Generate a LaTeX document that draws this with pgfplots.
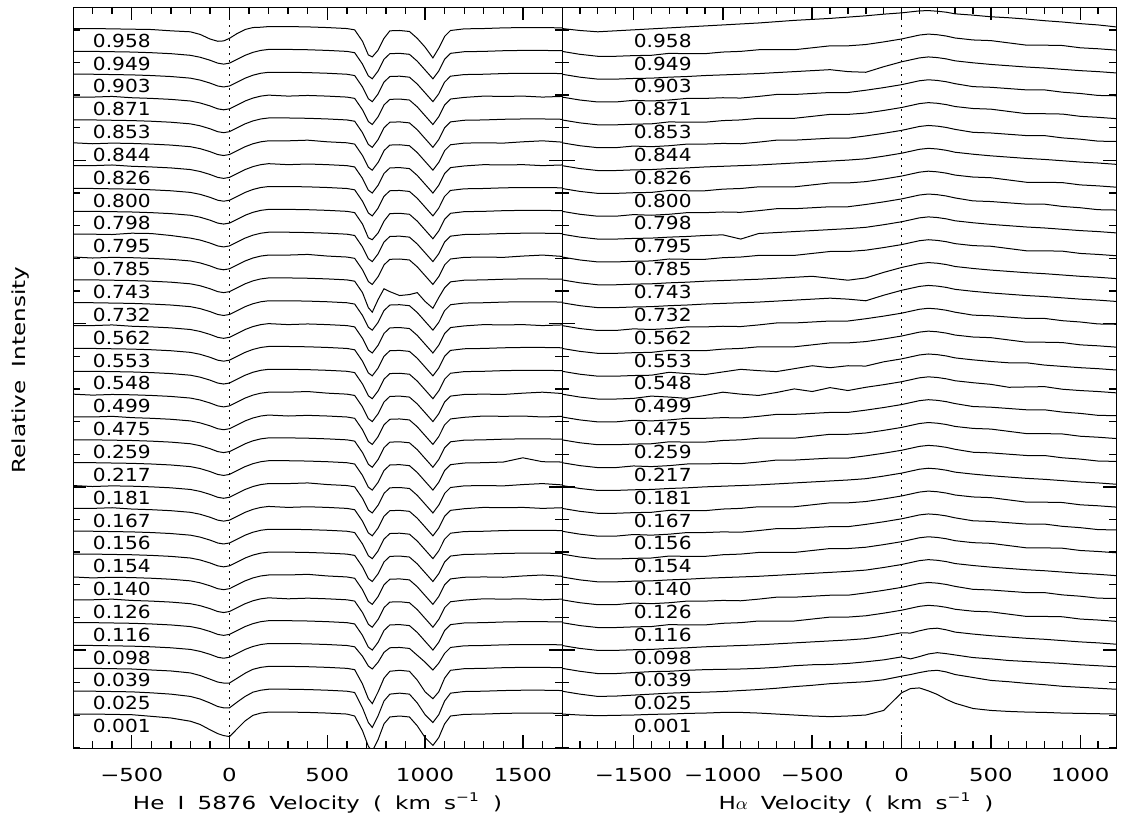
\documentclass[border=0pt]{standalone}
\usepackage{fontspec}
\setmainfont{DejaVu Sans}
\newfontfamily\ticklab{DejaVu Sans}[FakeStretch=1.27]
\newfontfamily\phaselab{DejaVu Sans}[FakeStretch=1.12]
\newfontfamily\axlab{DejaVu Sans}[FakeStretch=1.28, WordSpace=1.8]
\usepackage{pgfplots}
\usepackage{pgfplotstable}
\pgfplotsset{compat=1.18}

% He I 5876 panel: normalized flux, columns c0 (phase 0.001) ... c30 (phase 0.958)
\pgfplotstableread{
v c0 c1 c2 c3 c4 c5 c6 c7 c8 c9 c10 c11 c12 c13 c14 c15 c16 c17 c18 c19 c20 c21 c22 c23 c24 c25 c26 c27 c28 c29 c30
-800 1.000 1.000 1.000 1.000 1.000 1.000 1.000 1.000 1.000 1.000 1.000 1.000 1.000 1.000 1.000 1.000 1.000 1.000 1.000 1.000 1.000 1.000 1.000 1.000 1.000 1.000 1.000 1.000 1.000 1.000 1.000
-700 1.000 1.000 1.000 1.000 1.000 1.000 0.997 1.000 1.000 1.000 0.997 1.000 1.000 1.000 0.997 1.000 1.000 1.000 1.000 1.000 0.997 1.000 1.000 1.000 1.000 0.997 1.000 1.000 1.000 1.000 1.000
-600 0.999 0.999 0.999 0.999 0.999 1.002 0.999 0.999 0.999 1.002 0.999 0.999 0.999 1.002 0.999 0.999 0.999 1.002 0.999 0.999 0.999 0.999 0.999 0.999 1.002 0.999 0.999 1.002 0.999 0.999 0.999
-500 0.998 0.998 0.998 0.998 0.998 0.998 0.998 0.998 0.998 0.998 0.998 0.998 0.998 0.998 0.998 0.998 0.998 0.998 0.998 0.998 0.998 1.003 0.998 0.998 0.998 0.998 0.998 0.998 0.998 0.998 0.998
-400 0.993 0.995 0.995 0.996 0.996 0.996 0.996 0.996 0.996 0.996 0.996 0.996 0.996 0.996 0.996 0.996 0.996 0.996 0.996 0.996 0.996 1.002 0.996 0.996 0.996 0.996 0.996 0.996 0.996 0.996 0.997
-300 0.988 0.991 0.992 0.993 0.993 0.993 0.993 0.993 0.993 0.993 0.993 0.993 0.993 0.993 0.993 0.993 0.993 0.993 0.993 0.993 0.993 0.996 0.993 0.993 0.993 0.993 0.993 0.993 0.993 0.993 0.993
-200 0.978 0.984 0.986 0.988 0.988 0.988 0.988 0.988 0.988 0.988 0.988 0.988 0.988 0.988 0.988 0.988 0.988 0.988 0.988 0.988 0.988 0.988 0.988 0.988 0.988 0.988 0.988 0.988 0.988 0.988 0.990
-150 0.968 0.976 0.978 0.982 0.982 0.982 0.982 0.982 0.982 0.982 0.982 0.982 0.982 0.982 0.982 0.982 0.982 0.982 0.982 0.982 0.982 0.982 0.982 0.982 0.982 0.982 0.982 0.982 0.982 0.982 0.982
-100 0.952 0.964 0.967 0.973 0.973 0.973 0.973 0.973 0.973 0.973 0.973 0.973 0.973 0.973 0.973 0.973 0.973 0.973 0.973 0.973 0.973 0.973 0.973 0.973 0.973 0.973 0.973 0.973 0.973 0.973 0.968
-60 0.940 0.953 0.958 0.964 0.964 0.964 0.964 0.964 0.964 0.964 0.964 0.964 0.964 0.964 0.964 0.964 0.964 0.964 0.964 0.964 0.964 0.964 0.964 0.964 0.964 0.964 0.964 0.964 0.964 0.964 0.961
-30 0.934 0.949 0.955 0.961 0.961 0.961 0.961 0.961 0.961 0.961 0.961 0.961 0.961 0.961 0.961 0.961 0.961 0.961 0.961 0.961 0.961 0.961 0.961 0.961 0.961 0.961 0.961 0.961 0.961 0.961 0.962
0 0.931 0.949 0.955 0.964 0.964 0.964 0.964 0.964 0.964 0.964 0.964 0.964 0.964 0.964 0.964 0.964 0.964 0.964 0.964 0.964 0.964 0.964 0.964 0.964 0.964 0.964 0.964 0.964 0.964 0.964 0.970
40 0.955 0.967 0.970 0.976 0.976 0.976 0.976 0.976 0.976 0.976 0.976 0.976 0.976 0.976 0.976 0.976 0.976 0.976 0.976 0.976 0.976 0.976 0.976 0.976 0.976 0.976 0.976 0.976 0.976 0.976 0.985
80 0.979 0.984 0.985 0.988 0.988 0.988 0.988 0.988 0.988 0.988 0.988 0.988 0.988 0.988 0.988 0.988 0.988 0.988 0.988 0.988 0.988 0.988 0.988 0.988 0.988 0.988 0.988 0.988 0.988 0.988 0.997
120 0.996 0.997 0.997 0.997 0.997 0.997 0.997 0.997 0.997 0.997 0.997 0.997 0.997 0.997 0.997 0.997 0.997 0.997 0.997 0.997 0.997 0.997 0.997 0.997 0.997 0.997 0.997 0.997 0.997 0.997 1.003
160 1.003 1.003 1.003 1.003 1.003 1.003 1.003 1.003 1.003 1.003 1.003 1.003 1.003 1.003 1.003 1.003 1.003 1.003 1.003 1.003 1.003 1.003 1.003 1.003 1.003 1.003 1.003 1.003 1.003 1.003 1.004
200 1.006 1.006 1.006 1.006 1.006 1.006 1.006 1.006 1.006 1.006 1.006 1.006 1.006 1.006 1.006 1.006 1.006 1.006 1.006 1.006 1.006 1.006 1.006 1.006 1.006 1.006 1.006 1.006 1.006 1.006 1.006
300 1.006 1.006 1.006 1.006 1.006 1.003 1.006 1.006 1.006 1.003 1.006 1.006 1.006 1.003 1.006 1.006 1.006 1.003 1.006 1.006 1.006 1.006 1.006 1.006 1.003 1.006 1.006 1.003 1.006 1.006 1.006
400 1.005 1.005 1.005 1.005 1.005 1.005 1.008 1.005 1.005 1.005 1.008 1.005 1.005 1.005 1.008 1.005 1.005 1.005 1.005 1.005 1.008 1.005 1.005 1.005 1.005 1.008 1.005 1.005 1.005 1.005 1.005
500 1.003 1.003 1.003 1.003 1.003 1.003 1.003 1.003 1.003 1.003 1.003 1.003 1.003 1.003 1.003 1.003 1.003 1.003 1.003 1.003 1.003 1.003 1.003 1.003 1.003 1.003 1.003 1.003 1.003 1.003 1.003
600 1.000 1.000 1.000 1.000 1.000 1.000 1.000 1.000 1.000 1.000 1.000 1.000 1.000 1.000 1.000 1.000 1.000 1.000 1.000 1.000 1.000 1.000 1.000 1.000 1.000 1.000 1.000 1.000 1.000 1.000 1.000
640 0.994 0.996 0.996 0.996 0.996 0.996 0.996 0.996 0.996 0.996 0.996 0.996 0.996 0.996 0.996 0.996 0.996 0.996 0.996 0.996 0.996 0.996 0.996 0.996 0.996 0.996 0.996 0.996 0.996 0.996 0.996
680 0.949 0.949 0.952 0.967 0.961 0.961 0.961 0.961 0.961 0.961 0.961 0.961 0.961 0.961 0.961 0.961 0.961 0.961 0.961 0.961 0.961 0.961 0.961 0.961 0.961 0.961 0.961 0.961 0.961 0.961 0.961
710 0.901 0.904 0.907 0.937 0.925 0.925 0.925 0.925 0.925 0.925 0.925 0.925 0.925 0.925 0.925 0.925 0.925 0.925 0.925 0.915 0.925 0.925 0.919 0.925 0.925 0.925 0.925 0.925 0.925 0.925 0.919
730 0.886 0.889 0.892 0.928 0.916 0.916 0.916 0.916 0.916 0.916 0.916 0.916 0.916 0.916 0.916 0.916 0.916 0.916 0.916 0.901 0.916 0.916 0.913 0.916 0.916 0.916 0.916 0.916 0.916 0.916 0.913
760 0.922 0.925 0.928 0.949 0.940 0.940 0.940 0.940 0.940 0.940 0.940 0.940 0.940 0.940 0.940 0.940 0.940 0.940 0.940 0.940 0.940 0.940 0.934 0.940 0.940 0.940 0.940 0.940 0.940 0.940 0.934
790 0.970 0.970 0.970 0.979 0.976 0.976 0.976 0.976 0.976 0.976 0.976 0.976 0.976 0.976 0.976 0.976 0.976 0.976 0.976 0.973 0.976 0.976 0.970 0.976 0.976 0.976 0.976 0.976 0.976 0.976 0.970
820 0.991 0.991 0.991 0.993 0.993 0.993 0.993 0.993 0.993 0.993 0.993 0.993 0.993 0.993 0.993 0.993 0.993 0.993 0.993 0.964 0.993 0.993 0.993 0.993 0.993 0.993 0.993 0.993 0.993 0.993 0.993
870 0.994 0.994 0.994 0.994 0.994 0.994 0.994 0.994 0.994 0.994 0.994 0.994 0.994 0.994 0.994 0.994 0.994 0.994 0.994 0.952 0.994 0.994 0.994 0.994 0.994 0.994 0.994 0.994 0.994 0.994 0.994
920 0.991 0.991 0.991 0.991 0.991 0.991 0.991 0.991 0.991 0.991 0.991 0.991 0.991 0.991 0.991 0.991 0.991 0.991 0.991 0.955 0.991 0.991 0.991 0.991 0.991 0.991 0.991 0.991 0.991 0.991 0.991
960 0.964 0.964 0.964 0.970 0.970 0.970 0.970 0.970 0.970 0.970 0.970 0.970 0.970 0.970 0.970 0.970 0.970 0.970 0.970 0.961 0.970 0.970 0.970 0.970 0.970 0.970 0.970 0.970 0.970 0.970 0.970
1000 0.928 0.928 0.928 0.949 0.943 0.943 0.943 0.943 0.943 0.943 0.943 0.943 0.943 0.943 0.943 0.943 0.943 0.943 0.943 0.934 0.943 0.943 0.943 0.943 0.943 0.943 0.943 0.943 0.943 0.943 0.943
1040 0.904 0.904 0.907 0.925 0.916 0.916 0.916 0.916 0.916 0.916 0.916 0.916 0.916 0.916 0.916 0.916 0.916 0.916 0.916 0.913 0.916 0.916 0.916 0.916 0.916 0.916 0.916 0.916 0.916 0.916 0.910
1070 0.928 0.928 0.928 0.946 0.940 0.940 0.940 0.940 0.940 0.940 0.940 0.940 0.940 0.940 0.940 0.940 0.940 0.940 0.940 0.946 0.940 0.940 0.940 0.940 0.940 0.940 0.940 0.940 0.940 0.940 0.940
1100 0.970 0.970 0.970 0.976 0.976 0.976 0.976 0.976 0.976 0.976 0.976 0.976 0.976 0.976 0.976 0.976 0.976 0.976 0.976 0.976 0.976 0.976 0.976 0.976 0.976 0.976 0.976 0.976 0.976 0.976 0.976
1130 0.994 0.994 0.994 0.994 0.994 0.994 0.994 0.994 0.994 0.994 0.994 0.994 0.994 0.994 0.994 0.994 0.994 0.994 0.994 0.994 0.994 0.994 0.994 0.994 0.994 0.994 0.994 0.994 0.994 0.994 0.994
1200 0.999 0.999 0.999 0.999 0.999 0.999 0.999 0.999 0.999 0.999 0.999 0.999 0.999 0.999 0.999 0.999 0.999 0.999 0.999 0.999 0.999 0.999 0.999 0.999 0.999 0.999 0.999 0.999 0.999 0.999 0.999
1300 1.000 1.000 1.000 1.000 1.000 1.003 1.000 1.000 1.000 1.003 1.000 1.000 1.000 1.003 1.000 1.000 1.000 1.003 1.000 1.000 1.000 1.000 1.000 1.000 1.003 1.000 1.000 1.003 1.000 1.000 1.000
1400 1.002 1.002 1.002 1.002 1.002 1.002 0.999 1.002 1.002 1.002 0.999 1.002 1.002 1.002 0.999 1.002 1.002 1.002 1.002 1.002 0.999 1.002 1.002 1.002 1.002 0.999 1.002 1.002 1.002 1.002 1.002
1500 1.003 1.003 1.003 1.003 1.003 1.003 1.003 1.003 1.003 1.003 1.003 1.015 1.003 1.003 1.003 1.003 1.003 1.003 1.003 1.003 1.003 1.003 1.003 1.003 1.003 1.003 1.003 1.003 1.003 1.003 1.003
1600 1.003 1.003 1.003 1.003 1.003 1.000 1.006 1.003 1.003 1.000 1.006 1.003 1.003 1.000 1.006 1.003 1.003 1.000 1.003 1.003 1.006 1.003 1.003 1.003 1.000 1.006 1.003 1.000 1.003 1.003 1.003
1700 1.002 1.002 1.002 1.002 1.002 1.002 1.002 1.002 1.002 1.002 1.002 1.002 1.002 1.002 1.002 1.002 1.002 1.002 1.002 1.002 1.002 1.002 1.002 1.002 1.002 1.002 1.002 1.002 1.002 1.002 1.002
}\heI

% H alpha panel
\pgfplotstableread{
v c0 c1 c2 c3 c4 c5 c6 c7 c8 c9 c10 c11 c12 c13 c14 c15 c16 c17 c18 c19 c20 c21 c22 c23 c24 c25 c26 c27 c28 c29 c30
-1900 1.000 1.000 1.000 1.000 1.000 1.000 1.000 1.000 1.000 1.000 1.000 1.000 1.000 1.000 1.000 1.000 1.000 1.000 1.000 1.000 1.000 1.000 1.000 1.000 1.000 1.000 1.000 1.000 1.000 1.000 1.000
-1800 0.997 0.991 0.991 0.991 0.991 0.991 0.991 0.991 0.991 0.991 0.991 0.991 0.991 0.991 0.991 0.991 0.991 0.991 0.991 0.991 0.991 0.991 0.991 0.991 0.991 0.991 0.991 0.991 0.991 0.991 0.994
-1700 0.995 0.984 0.984 0.985 0.985 0.985 0.985 0.985 0.985 0.985 0.985 0.985 0.985 0.985 0.985 0.985 0.985 0.985 0.985 0.985 0.985 0.985 0.985 0.985 0.985 0.985 0.985 0.985 0.985 0.985 0.990
-1600 0.996 0.985 0.984 0.985 0.985 0.985 0.985 0.985 0.985 0.985 0.985 0.985 0.985 0.985 0.985 0.985 0.985 0.985 0.985 0.985 0.985 0.985 0.985 0.985 0.985 0.985 0.985 0.985 0.985 0.985 0.993
-1500 0.997 0.988 0.987 0.987 0.987 0.990 0.987 0.987 0.990 0.987 0.987 0.990 0.987 0.990 0.987 0.987 0.987 0.990 0.987 0.987 0.987 0.987 0.990 0.987 0.987 0.990 0.987 0.990 0.987 0.987 0.996
-1400 0.999 0.991 0.990 0.988 0.988 0.988 0.988 0.988 0.988 0.988 0.988 0.988 0.988 0.988 0.994 0.988 0.988 0.988 0.988 0.988 0.988 0.988 0.988 0.988 0.988 0.988 0.988 0.988 0.988 0.988 0.999
-1300 1.000 0.994 0.991 0.991 0.994 0.991 0.991 0.994 0.991 0.994 0.991 0.991 0.994 0.991 0.991 0.997 0.994 0.991 0.991 0.991 0.994 0.991 0.991 0.994 0.991 0.991 0.994 0.991 0.991 0.994 1.002
-1200 1.002 0.996 0.994 0.993 0.993 0.996 0.993 0.993 0.996 0.993 0.993 0.996 0.993 0.996 0.987 0.993 0.993 0.996 0.993 0.993 0.993 0.993 0.996 0.993 0.993 0.996 0.993 0.996 0.993 0.993 1.005
-1100 1.003 0.997 0.996 0.996 0.993 0.996 0.996 0.993 0.996 0.993 0.996 0.996 0.993 0.996 0.996 0.990 0.993 0.996 0.996 0.996 0.993 0.996 0.996 0.993 0.996 0.996 0.993 0.996 0.996 0.993 1.008
-1000 1.005 0.999 0.997 0.998 0.998 0.998 0.998 0.998 0.998 0.998 0.998 0.998 0.998 0.998 1.006 0.998 0.998 0.998 0.998 0.998 0.998 0.998 0.998 0.998 0.998 0.998 0.998 0.998 0.998 0.998 1.011
-900 1.005 1.002 0.998 1.000 1.000 0.997 1.000 1.000 0.997 1.000 1.000 0.997 1.000 0.997 1.000 1.006 1.000 0.997 1.000 1.000 1.000 0.985 0.997 1.000 1.000 0.997 1.000 0.997 1.000 1.000 1.014
-800 1.003 1.005 1.000 1.002 1.005 1.002 1.002 1.005 1.002 1.005 1.002 1.002 1.005 1.002 0.996 1.002 1.005 1.002 1.002 1.002 1.005 1.002 1.002 1.005 1.002 1.002 1.005 1.002 1.002 1.005 1.017
-700 1.000 1.009 1.003 1.005 1.005 1.008 1.005 1.005 1.008 1.005 1.005 1.008 1.005 1.008 1.005 0.999 1.005 1.008 1.005 1.005 1.005 1.005 1.008 1.005 1.005 1.008 1.005 1.008 1.005 1.005 1.021
-600 0.997 1.014 1.008 1.008 1.005 1.008 1.008 1.005 1.008 1.005 1.008 1.008 1.005 1.008 1.016 1.008 1.005 1.008 1.008 1.008 1.005 1.008 1.008 1.005 1.008 1.008 1.005 1.008 1.008 1.005 1.025
-500 0.994 1.018 1.011 1.011 1.011 1.011 1.011 1.011 1.011 1.011 1.011 1.011 1.011 1.011 1.008 1.017 1.011 1.011 1.011 1.011 1.011 1.011 1.011 1.011 1.011 1.011 1.011 1.011 1.011 1.011 1.028
-400 0.992 1.023 1.012 1.014 1.017 1.014 1.014 1.017 1.014 1.017 1.014 1.014 1.017 1.014 1.020 1.011 1.017 1.014 1.014 1.005 1.017 1.014 1.014 1.017 1.014 1.014 1.017 1.014 1.014 1.017 1.031
-300 0.994 1.026 1.015 1.017 1.017 1.014 1.017 1.017 1.014 1.017 1.017 1.014 1.017 1.014 1.011 1.017 1.017 1.014 1.011 0.999 1.017 1.017 1.014 1.017 1.017 1.014 1.017 1.014 1.008 1.017 1.035
-200 0.997 1.029 1.020 1.021 1.021 1.021 1.021 1.021 1.021 1.021 1.021 1.021 1.021 1.021 1.021 1.016 1.021 1.021 1.006 1.006 1.021 1.021 1.021 1.021 1.021 1.021 1.021 1.021 1.006 1.021 1.039
-100 1.011 1.035 1.026 1.029 1.029 1.029 1.029 1.029 1.029 1.029 1.029 1.029 1.029 1.029 1.029 1.029 1.029 1.029 1.023 1.023 1.029 1.029 1.029 1.029 1.029 1.029 1.029 1.029 1.023 1.029 1.044
0 1.065 1.046 1.035 1.039 1.038 1.038 1.038 1.038 1.038 1.038 1.038 1.038 1.038 1.038 1.038 1.038 1.038 1.038 1.038 1.038 1.038 1.038 1.038 1.038 1.038 1.038 1.038 1.038 1.038 1.038 1.048
50 1.078 1.051 1.029 1.038 1.044 1.044 1.044 1.044 1.044 1.044 1.044 1.044 1.044 1.044 1.044 1.044 1.044 1.044 1.044 1.044 1.044 1.044 1.044 1.044 1.044 1.044 1.044 1.044 1.044 1.044 1.051
100 1.080 1.057 1.036 1.045 1.050 1.050 1.050 1.050 1.050 1.050 1.050 1.050 1.050 1.050 1.050 1.050 1.050 1.050 1.050 1.050 1.050 1.050 1.050 1.050 1.050 1.050 1.050 1.050 1.050 1.050 1.054
150 1.071 1.062 1.044 1.051 1.053 1.053 1.053 1.053 1.053 1.053 1.053 1.053 1.053 1.053 1.053 1.053 1.053 1.053 1.053 1.053 1.053 1.053 1.053 1.053 1.053 1.053 1.053 1.053 1.053 1.053 1.055
200 1.060 1.064 1.048 1.053 1.051 1.051 1.051 1.051 1.051 1.051 1.051 1.051 1.051 1.051 1.051 1.051 1.051 1.051 1.051 1.051 1.051 1.051 1.051 1.051 1.051 1.051 1.051 1.051 1.051 1.051 1.053
250 1.045 1.059 1.045 1.048 1.047 1.047 1.047 1.047 1.047 1.047 1.047 1.047 1.047 1.047 1.047 1.047 1.047 1.047 1.047 1.047 1.047 1.047 1.047 1.047 1.047 1.047 1.047 1.047 1.047 1.047 1.050
300 1.033 1.051 1.041 1.041 1.041 1.041 1.041 1.041 1.041 1.041 1.041 1.041 1.041 1.041 1.041 1.041 1.041 1.041 1.041 1.041 1.041 1.041 1.041 1.041 1.041 1.041 1.041 1.041 1.041 1.041 1.045
400 1.017 1.042 1.033 1.035 1.035 1.032 1.035 1.035 1.032 1.035 1.035 1.032 1.035 1.032 1.035 1.035 1.035 1.032 1.035 1.035 1.035 1.035 1.032 1.035 1.035 1.032 1.035 1.032 1.035 1.035 1.041
500 1.011 1.033 1.029 1.030 1.033 1.030 1.030 1.033 1.030 1.033 1.030 1.030 1.033 1.030 1.030 1.030 1.033 1.030 1.030 1.030 1.033 1.030 1.030 1.033 1.030 1.030 1.033 1.030 1.030 1.033 1.036
600 1.008 1.029 1.024 1.026 1.026 1.026 1.026 1.026 1.026 1.026 1.026 1.026 1.026 1.026 1.021 1.026 1.026 1.026 1.026 1.026 1.026 1.026 1.026 1.026 1.026 1.026 1.026 1.026 1.026 1.026 1.033
700 1.006 1.024 1.021 1.022 1.019 1.022 1.022 1.019 1.022 1.019 1.022 1.022 1.019 1.022 1.022 1.026 1.019 1.022 1.022 1.022 1.019 1.022 1.022 1.019 1.022 1.022 1.019 1.022 1.022 1.019 1.029
800 1.005 1.020 1.018 1.019 1.019 1.022 1.019 1.019 1.022 1.019 1.019 1.022 1.019 1.022 1.023 1.019 1.019 1.022 1.019 1.019 1.019 1.019 1.022 1.019 1.019 1.022 1.019 1.022 1.019 1.019 1.024
900 1.003 1.015 1.015 1.015 1.018 1.015 1.015 1.018 1.015 1.018 1.015 1.015 1.018 1.015 1.015 1.015 1.018 1.015 1.015 1.015 1.018 1.015 1.015 1.018 1.015 1.015 1.018 1.015 1.015 1.018 1.020
1000 1.002 1.012 1.011 1.011 1.011 1.011 1.011 1.011 1.011 1.011 1.011 1.011 1.011 1.011 1.011 1.011 1.011 1.011 1.011 1.011 1.011 1.011 1.011 1.011 1.011 1.011 1.011 1.011 1.011 1.011 1.015
1100 1.001 1.009 1.008 1.008 1.008 1.005 1.008 1.008 1.005 1.008 1.008 1.005 1.008 1.005 1.008 1.008 1.008 1.005 1.008 1.008 1.008 1.008 1.005 1.008 1.008 1.005 1.008 1.005 1.008 1.008 1.011
1200 1.000 1.006 1.005 1.004 1.004 1.004 1.004 1.004 1.004 1.004 1.004 1.004 1.004 1.004 1.004 1.004 1.004 1.004 1.004 1.004 1.004 1.004 1.004 1.004 1.004 1.004 1.004 1.004 1.004 1.004 1.005
}\halpha

% phase labels (y position of label centre)
\pgfplotstableread{
y lab
0.767 0.001
0.837 0.025
0.907 0.039
0.977 0.098
1.047 0.116
1.117 0.126
1.187 0.140
1.257 0.154
1.327 0.156
1.397 0.167
1.467 0.181
1.537 0.217
1.607 0.259
1.677 0.475
1.747 0.499
1.817 0.548
1.887 0.553
1.957 0.562
2.027 0.732
2.097 0.743
2.167 0.785
2.237 0.795
2.307 0.798
2.377 0.800
2.447 0.826
2.517 0.844
2.587 0.853
2.657 0.871
2.727 0.903
2.797 0.949
2.867 0.958
}\phaselabels

\pgfplotsset{
  specpanel/.style={
    scale only axis,
    height=370.5pt,
    ymin=0.70, ymax=2.97,
    ytick={0.5,1,1.5,2,2.5,3},
    minor y tick num=4,
    yticklabels={},
    tick align=inside,
    major tick length=6.5pt,
    minor tick length=3.5pt,
    tick style={black, line width=0.7pt},
    tick label style={font=\ticklab},
    label style={font=\axlab},
    xticklabel style={yshift=-7pt},
    xlabel style={at={(axis description cs:0.5,0)}, anchor=center, yshift=-27.5pt},
  },
}

\begin{document}
\fontsize{9}{11}\selectfont
\begin{tikzpicture}
\useasboundingbox (0,0) rectangle (562.5pt,417pt);

\begin{axis}[specpanel,
  at={(36.5pt,43pt)}, anchor=south west,
  width=244.5pt,
  xmin=-800, xmax=1700,
  xtick={-500,0,500,1000,1500},
  xticklabels={−500,0,500,1000,1500},
  minor x tick num=4,
  xlabel={He I 5876 Velocity ( km s\textsuperscript{−1} )},
  ylabel={Relative Intensity},
  ylabel style={at={(axis description cs:-0.1063,0.51)}, anchor=center},
]
\pgfplotsinvokeforeach{0,...,30}{
  \addplot[black, line width=0.5pt] table[x=v, y expr=\thisrow{c#1}+0.07*#1-0.196] {\heI};
}
\addplot[black, line width=0.8pt, dash pattern=on 0.8pt off 2.7pt] coordinates {(0,0.70) (0,2.97)};
\addplot[draw=none, mark=none, nodes near coords, point meta=explicit symbolic,
    every node near coord/.append style={anchor=west, inner sep=0pt, font=\phaselab}]
    table[x expr=-700, y=y, meta=lab] {\phaselabels};
% x-axis tick marks along the bottom
\addplot[black, line width=0.7pt, unbounded coords=jump] coordinates {
(-700,0.70) (-700,0.7214) (-700,nan) (-600,0.70) (-600,0.7214) (-600,nan)
(-500,0.70) (-500,0.7398) (-500,nan) (-400,0.70) (-400,0.7214) (-400,nan)
(-300,0.70) (-300,0.7214) (-300,nan) (-200,0.70) (-200,0.7214) (-200,nan)
(-100,0.70) (-100,0.7214) (-100,nan) (0,0.70) (0,0.7398) (0,nan)
(100,0.70) (100,0.7214) (100,nan) (200,0.70) (200,0.7214) (200,nan)
(300,0.70) (300,0.7214) (300,nan) (400,0.70) (400,0.7214) (400,nan)
(500,0.70) (500,0.7398) (500,nan) (600,0.70) (600,0.7214) (600,nan)
(700,0.70) (700,0.7214) (700,nan) (800,0.70) (800,0.7214) (800,nan)
(900,0.70) (900,0.7214) (900,nan) (1000,0.70) (1000,0.7398) (1000,nan)
(1100,0.70) (1100,0.7214) (1100,nan) (1200,0.70) (1200,0.7214) (1200,nan)
(1300,0.70) (1300,0.7214) (1300,nan) (1400,0.70) (1400,0.7214) (1400,nan)
(1500,0.70) (1500,0.7398) (1500,nan) (1600,0.70) (1600,0.7214)
};
% x-axis tick marks along the top
\addplot[black, line width=0.7pt, unbounded coords=jump] coordinates {
(-700,2.97) (-700,2.9486) (-700,nan) (-600,2.97) (-600,2.9486) (-600,nan)
(-500,2.97) (-500,2.9302) (-500,nan) (-400,2.97) (-400,2.9486) (-400,nan)
(-300,2.97) (-300,2.9486) (-300,nan) (-200,2.97) (-200,2.9486) (-200,nan)
(-100,2.97) (-100,2.9486) (-100,nan) (0,2.97) (0,2.9302) (0,nan)
(100,2.97) (100,2.9486) (100,nan) (200,2.97) (200,2.9486) (200,nan)
(300,2.97) (300,2.9486) (300,nan) (400,2.97) (400,2.9486) (400,nan)
(500,2.97) (500,2.9302) (500,nan) (600,2.97) (600,2.9486) (600,nan)
(700,2.97) (700,2.9486) (700,nan) (800,2.97) (800,2.9486) (800,nan)
(900,2.97) (900,2.9486) (900,nan) (1000,2.97) (1000,2.9302) (1000,nan)
(1100,2.97) (1100,2.9486) (1100,nan) (1200,2.97) (1200,2.9486) (1200,nan)
(1300,2.97) (1300,2.9486) (1300,nan) (1400,2.97) (1400,2.9486) (1400,nan)
(1500,2.97) (1500,2.9302) (1500,nan) (1600,2.97) (1600,2.9486)
};
\end{axis}

\begin{axis}[specpanel,
  at={(281pt,43pt)}, anchor=south west,
  width=277pt,
  xmin=-1900, xmax=1200,
  xtick={-1500,-1000,-500,0,500,1000},
  xticklabels={−1500,−1000,−500,0,500,1000},
  minor x tick num=4,
  xlabel={H$\alpha$ Velocity ( km s\textsuperscript{−1} )},
  xlabel style={xshift=8.5pt},
]
\pgfplotsinvokeforeach{0,...,30}{
  \addplot[black, line width=0.5pt] table[x=v, y expr=\thisrow{c#1}+0.07*#1-0.196] {\halpha};
}
\addplot[black, line width=0.8pt, dash pattern=on 0.8pt off 2.7pt] coordinates {(0,0.70) (0,2.97)};
\addplot[draw=none, mark=none, nodes near coords, point meta=explicit symbolic,
    every node near coord/.append style={anchor=west, inner sep=0pt, font=\phaselab}]
    table[x expr=-1500, y=y, meta=lab] {\phaselabels};
% x-axis tick marks along the bottom
\addplot[black, line width=0.7pt, unbounded coords=jump] coordinates {
(-1800,0.70) (-1800,0.7214) (-1800,nan) (-1700,0.70) (-1700,0.7214) (-1700,nan)
(-1600,0.70) (-1600,0.7214) (-1600,nan) (-1500,0.70) (-1500,0.7398) (-1500,nan)
(-1400,0.70) (-1400,0.7214) (-1400,nan) (-1300,0.70) (-1300,0.7214) (-1300,nan)
(-1200,0.70) (-1200,0.7214) (-1200,nan) (-1100,0.70) (-1100,0.7214) (-1100,nan)
(-1000,0.70) (-1000,0.7398) (-1000,nan) (-900,0.70) (-900,0.7214) (-900,nan)
(-800,0.70) (-800,0.7214) (-800,nan) (-700,0.70) (-700,0.7214) (-700,nan)
(-600,0.70) (-600,0.7214) (-600,nan) (-500,0.70) (-500,0.7398) (-500,nan)
(-400,0.70) (-400,0.7214) (-400,nan) (-300,0.70) (-300,0.7214) (-300,nan)
(-200,0.70) (-200,0.7214) (-200,nan) (-100,0.70) (-100,0.7214) (-100,nan)
(0,0.70) (0,0.7398) (0,nan) (100,0.70) (100,0.7214) (100,nan)
(200,0.70) (200,0.7214) (200,nan) (300,0.70) (300,0.7214) (300,nan)
(400,0.70) (400,0.7214) (400,nan) (500,0.70) (500,0.7398) (500,nan)
(600,0.70) (600,0.7214) (600,nan) (700,0.70) (700,0.7214) (700,nan)
(800,0.70) (800,0.7214) (800,nan) (900,0.70) (900,0.7214) (900,nan)
(1000,0.70) (1000,0.7398) (1000,nan) (1100,0.70) (1100,0.7214)
};
% x-axis tick marks along the top
\addplot[black, line width=0.7pt, unbounded coords=jump] coordinates {
(-1800,2.97) (-1800,2.9486) (-1800,nan) (-1700,2.97) (-1700,2.9486) (-1700,nan)
(-1600,2.97) (-1600,2.9486) (-1600,nan) (-1500,2.97) (-1500,2.9302) (-1500,nan)
(-1400,2.97) (-1400,2.9486) (-1400,nan) (-1300,2.97) (-1300,2.9486) (-1300,nan)
(-1200,2.97) (-1200,2.9486) (-1200,nan) (-1100,2.97) (-1100,2.9486) (-1100,nan)
(-1000,2.97) (-1000,2.9302) (-1000,nan) (-900,2.97) (-900,2.9486) (-900,nan)
(-800,2.97) (-800,2.9486) (-800,nan) (-700,2.97) (-700,2.9486) (-700,nan)
(-600,2.97) (-600,2.9486) (-600,nan) (-500,2.97) (-500,2.9302) (-500,nan)
(-400,2.97) (-400,2.9486) (-400,nan) (-300,2.97) (-300,2.9486) (-300,nan)
(-200,2.97) (-200,2.9486) (-200,nan) (-100,2.97) (-100,2.9486) (-100,nan)
(0,2.97) (0,2.9302) (0,nan) (100,2.97) (100,2.9486) (100,nan)
(200,2.97) (200,2.9486) (200,nan) (300,2.97) (300,2.9486) (300,nan)
(400,2.97) (400,2.9486) (400,nan) (500,2.97) (500,2.9302) (500,nan)
(600,2.97) (600,2.9486) (600,nan) (700,2.97) (700,2.9486) (700,nan)
(800,2.97) (800,2.9486) (800,nan) (900,2.97) (900,2.9486) (900,nan)
(1000,2.97) (1000,2.9302) (1000,nan) (1100,2.97) (1100,2.9486)
};
\end{axis}
\end{tikzpicture}
\end{document}
